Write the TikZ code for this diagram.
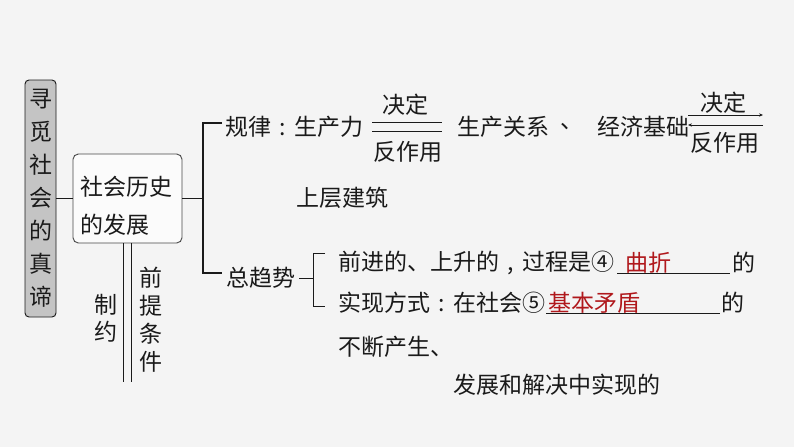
\documentclass[tikz,border=0pt]{standalone}
\usepackage{fontspec}
\setmainfont{Noto Sans CJK SC}
\usetikzlibrary{arrows.meta}
\definecolor{bgc}{HTML}{F4F4F4}
\definecolor{txt}{HTML}{1A1A1A}
\definecolor{ans}{HTML}{B0181C}
\definecolor{boxfill}{HTML}{C4C4C4}
\newcommand{\cc}[1]{\makebox[1em][c]{#1}}
\tikzset{
  lbl/.style={inner sep=0pt, outer sep=0pt, text=txt, font=\fontsize{17.25}{20}\selectfont, anchor=west},
  red lbl/.style={lbl, text=ans},
  wire/.style={draw=txt, line width=0.8pt},
  thin wire/.style={draw=txt, line width=0.6pt},
}
\begin{document}
\begin{tikzpicture}[x=0.75pt,y=-0.75pt]
\useasboundingbox[fill=bgc] (0,0) rectangle (794,447);
% root box
\node[draw=txt, line width=0.7pt, fill=boxfill, rounded corners=3pt, minimum width=23.25pt, minimum height=177.75pt, inner sep=0pt, text=txt, align=center, font=\fontsize{17.25}{24.75}\selectfont] (root) at (40.5,198.5) {寻\\觅\\社\\会\\的\\真\\谛};
% development box
\node[draw=txt!80, line width=0.7pt, fill=white!60!bgc, rounded corners=4pt, minimum width=81.75pt, minimum height=66.75pt, inner sep=0pt] (dev) at (127.5,198.5) {};
\node[lbl] (dev1) at (80,187) {社会历史};
\node[lbl] (dev2) at (80,225) {的发展};
\draw[wire] (root.east) -- (dev.west);
\coordinate (tj) at (203,198.5);
\coordinate (tt) at (203,123);
\coordinate (tb) at (203,273);
\coordinate (lawend) at (222,123);
\coordinate (trendend) at (222,273);
\draw[wire] (dev.east) -- (tj);
\draw[wire] (lawend) -- (tt) -- (tb) -- (trendend);
% double lines below
\coordinate (d1a) at (123,243); \coordinate (d1b) at (123,382);
\coordinate (d2a) at (131,243); \coordinate (d2b) at (131,382);
\draw[thin wire] (d1a) -- (d1b);
\draw[thin wire] (d2a) -- (d2b);
\node[lbl, anchor=center, align=center, font=\fontsize{17.25}{20.5}\selectfont] (zy) at (106,318.5) {制\\约};
\node[lbl, anchor=center, align=center, font=\fontsize{17.25}{21}\selectfont] (qt) at (151,319.5) {前\\提\\条\\件};
% law row
\node[lbl] (law) at (225,127) {规律\cc{:}生产力};
\node[lbl, anchor=center] (jd1) at (405,105) {决定};
\node[lbl, anchor=center] (fz1) at (408,152) {反作用};
\coordinate (f1a) at (372,122); \coordinate (f1b) at (442,122);
\coordinate (f1c) at (372,131); \coordinate (f1d) at (442,131);
\draw[thin wire] (f1a) -- (f1b);
\draw[thin wire] (f1c) -- (f1d);
\node[lbl] (scgx) at (457,127) {生产关系};
\node[lbl] (dun) at (560,127) {、};
\node[lbl] (jjjc) at (597,127) {经济基础};
\node[lbl, anchor=center] (jd2) at (723,103) {决定};
\node[lbl, anchor=center] (fz2) at (725,143) {反作用};
\coordinate (f2a) at (688,115); \coordinate (f2b) at (763,115);
\coordinate (f2c) at (688,125); \coordinate (f2d) at (763,125);
\draw[thin wire, -{Stealth[length=3pt,width=2.5pt]}] (f2a) -- (f2b);
\draw[thin wire, -{Stealth[length=3pt,width=2.5pt]}] (f2d) -- (f2c);
\node[lbl] (scjz) at (296,198) {上层建筑};
% trend row
\node[lbl] (trend) at (226,278) {总趋势};
\coordinate (bs) at (299,278); \coordinate (bm) at (313,278);
\coordinate (bt) at (313,253); \coordinate (bb) at (313,306);
\coordinate (btt) at (325,253); \coordinate (bbt) at (325,306);
\draw[thin wire] (bs) -- (bm);
\draw[thin wire] (btt) -- (bt) -- (bb) -- (bbt);
\node[lbl] (l1) at (338,263) {前进的、上升的\cc{,}过程是④};
\node[red lbl] (a1) at (625,263) {曲折};
\coordinate (u1a) at (617,273); \coordinate (u1b) at (730,273);
\draw[thin wire] (u1a) -- (u1b);
\node[lbl] (l1e) at (732,263) {的};
\node[lbl] (l2) at (338,303) {实现方式\cc{:}在社会⑤};
\node[red lbl] (a2) at (548,303) {基本矛盾};
\coordinate (u2a) at (546,313); \coordinate (u2b) at (720,313);
\draw[thin wire] (u2a) -- (u2b);
\node[lbl] (l2e) at (721,303) {的};
\node[lbl] (l3) at (338,347) {不断产生、};
\node[lbl] (l4) at (453,385) {发展和解决中实现的};
\end{tikzpicture}
\end{document}
